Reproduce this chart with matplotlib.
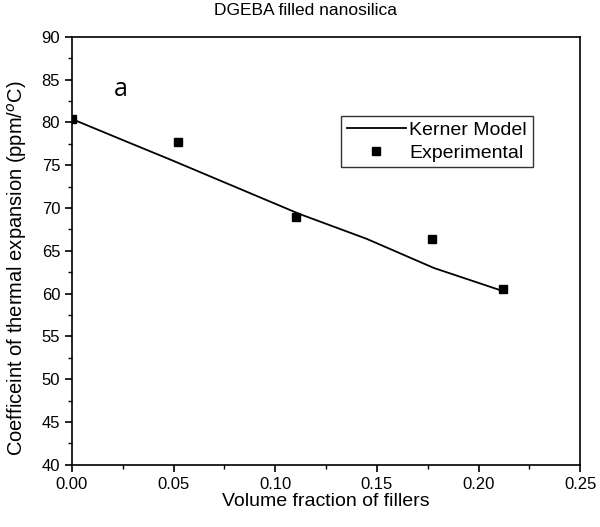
import matplotlib as mpl
mpl.use('Agg')
import matplotlib.pyplot as plt
from matplotlib.ticker import MultipleLocator

plt.rcParams['font.family'] = ['Liberation Sans', 'DejaVu Sans']

# Kerner model curve
kerner_x = [0.0, 0.0285, 0.048, 0.083, 0.112, 0.145, 0.178, 0.212]
kerner_y = [80.4, 77.6, 75.7, 72.2, 69.3, 66.4, 63.0, 60.3]

# experimental points
exp_x = [0.0, 0.052, 0.11, 0.177, 0.212]
exp_y = [80.4, 77.7, 69.0, 66.4, 60.5]

fig = plt.figure(figsize=(6, 5.27), dpi=100)
ax = fig.add_axes([0.12, 0.118, 0.847, 0.812])

ax.plot(kerner_x, kerner_y, color='black', lw=1.3, label='Kerner Model')
ax.plot(exp_x, exp_y, 's', color='black', ms=6, label='Experimental')

ax.set_xlim(0, 0.25)
ax.set_ylim(40, 90)
ax.xaxis.set_major_locator(MultipleLocator(0.05))
ax.xaxis.set_minor_locator(MultipleLocator(0.025))
ax.yaxis.set_major_locator(MultipleLocator(5))
ax.yaxis.set_minor_locator(MultipleLocator(2.5))
ax.xaxis.set_major_formatter(mpl.ticker.FormatStrFormatter('%.2f'))
ax.tick_params(which='major', direction='out', length=5, width=1.2, labelsize=12)
ax.tick_params(which='minor', direction='out', length=3, width=1)
for s in ax.spines.values():
    s.set_linewidth(1.2)

ax.set_xlabel('Volume fraction of fillers', fontsize=14, labelpad=1)
ax.set_ylabel('Coefficeint of thermal expansion (ppm/$^o$C)', fontsize=14.5, labelpad=3)
ax.yaxis.set_label_coords(-0.085, 0.46)
fig.suptitle('DGEBA filled nanosilica', fontsize=12.5, x=0.51, y=0.995, va='top')

ax.text(0.0205, 83.9, 'a', fontsize=18, va='center', family=['Open Sans', 'DejaVu Sans'])

leg = ax.legend(loc='lower left', bbox_to_anchor=(0.53, 0.695), frameon=True, fancybox=False,
                edgecolor='black', fontsize=14, handlelength=3, borderpad=0.3,
                labelspacing=0.25, handletextpad=0.2, borderaxespad=0)
leg.get_frame().set_linewidth(1)

fig.savefig('out.png', dpi=100)
